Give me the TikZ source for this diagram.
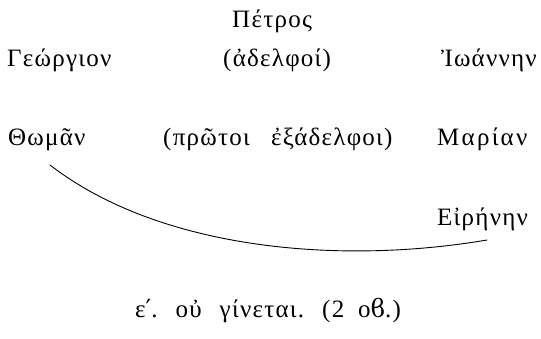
\documentclass[tikz,border=0pt]{standalone}
\usepackage{fontspec}
\setmainfont{Liberation Serif}[LetterSpace=5]
\newfontfamily\dvs{DejaVu Serif}[LetterSpace=5]
\tikzset{
  gname/.style={inner sep=0pt, anchor=base west, font=\fontsize{25}{29}\selectfont},
  link/.style={line width=0.9pt, line cap=round}
}
\begin{document}
\begin{tikzpicture}[x=1pt,y=1pt]
\useasboundingbox (0,0) rectangle (541,338);
\node[gname] (petros) at (232,310) {Πέτρος};
\node[gname] (georg) at (7,271) {Γεώργιον};
\node[gname] (adelf) at (223,271) {(ἀδελφοί)};
\node[gname,anchor=base east] (ioann) at (537,271) {Ἰωάννην};
\node[gname] (thom) at (8,193) {Θωμᾶν};
\node[gname] (protoi) at (163,193) {(πρῶτοι\hspace{0.85em}ἐξάδελφοι)};
\node[gname] (maria) at (437,193) {\addfontfeatures{LetterSpace=9}Μαρίαν};
\node[gname] (eirene) at (437,113) {Εἰρήνην};
\node[gname] (note) at (135,21) {ε{\dvs ′}.\hspace{0.72em}οὐ\hspace{0.72em}γίνεται.\hspace{0.72em}(2\hspace{0.55em}ο{\dvs ϐ}.)};
\coordinate (cs) at (50,173);
\coordinate (ce) at (487,98);
\draw[link] (cs) .. controls (160,88) and (340,73) .. (ce);
\end{tikzpicture}
\end{document}
